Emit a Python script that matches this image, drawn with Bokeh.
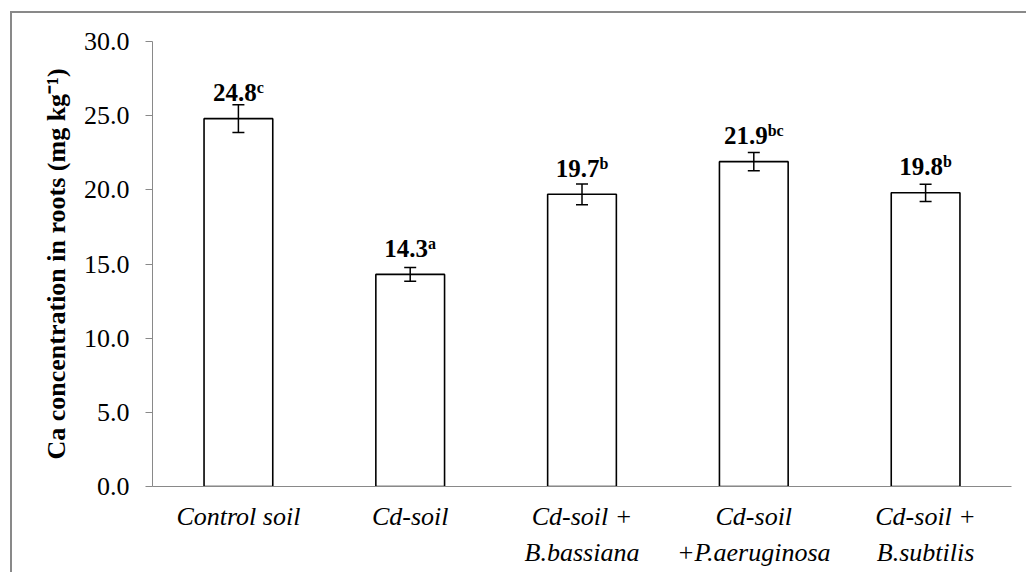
from bokeh.plotting import figure
from bokeh.models import (ColumnDataSource, FactorRange, Range1d, FixedTicker,
                          NumeralTickFormatter, Whisker, TeeHead)
from bokeh.core.properties import value
from bokeh.embed import file_html
from bokeh.resources import INLINE

# Treatments, mean Ca concentration in roots (mg/kg), standard errors, letters
treatments = ["Control soil", "Cd-soil", "Cd-soil +\nB.bassiana",
              "Cd-soil\n+P.aeruginosa", "Cd-soil +\nB.subtilis"]
ca_mean = [24.8, 14.3, 19.7, 21.9, 19.8]
ca_err = [0.93, 0.47, 0.70, 0.62, 0.58]
letters = ["c", "a", "b", "bc", "b"]

SERIF = "Liberation Serif"
NUM_SIZE = 25
SUP_SIZE = 16
num_w = 1.75 * NUM_SIZE                      # width of "dd.d" in the serif font
sup_glyph_w = {"a": 8.0, "b": 9.0, "c": 7.0}
sup_w = [sum(sup_glyph_w[ch] for ch in s) for s in letters]
# point where the number ends and the superscript starts, so the pair is centred
joint = [(num_w - w) / 2 for w in sup_w]

src = ColumnDataSource(dict(
    x=treatments,
    y=ca_mean,
    upper=[m + e for m, e in zip(ca_mean, ca_err)],
    lower=[m - e for m, e in zip(ca_mean, ca_err)],
    num=[f"{m:.1f}" for m in ca_mean],
    sup=letters,
    joint=joint,
))

AXIS_GREY = "#898989"

# the page frame: a grey rule on the left and top, offset from the window edge
OFF_X, OFF_Y, RULE = 10, 11, 2
W, H = 1028 - OFF_X - RULE, 574 - OFF_Y - RULE

p = figure(width=W, height=H, output_backend="svg", toolbar_location=None,
           x_range=FactorRange(*treatments, range_padding=0),
           y_range=Range1d(0, 30),
           min_border_left=152 - OFF_X - RULE, min_border_right=17,
           min_border_top=41 - OFF_Y - RULE, min_border_bottom=88)
p.styles = {"margin-left": f"{OFF_X}px", "margin-top": f"{OFF_Y}px",
            "border-left": f"{RULE}px solid {AXIS_GREY}",
            "border-top": f"{RULE}px solid {AXIS_GREY}"}
p.background_fill_color = "white"
p.border_fill_color = "white"
p.outline_line_color = None
p.grid.grid_line_color = None

p.vbar(x="x", top="y", width=0.40, source=src, fill_color="white",
       line_color="black", line_width=1.6)

p.add_layout(Whisker(base="x", upper="upper", lower="lower", source=src,
                     level="overlay",
                     line_color="black", line_width=1.5,
                     upper_head=TeeHead(size=12, line_color="black", line_width=1.5),
                     lower_head=TeeHead(size=12, line_color="black", line_width=1.5)))

p.text(x="x", y="y", text="num", source=src, x_offset="joint", y_offset=-26,
       text_align="right", text_baseline="alphabetic",
       text_font=value(SERIF), text_font_style="bold",
       text_font_size=f"{NUM_SIZE}px", text_color="black")
p.text(x="x", y="y", text="sup", source=src, x_offset="joint", y_offset=-31,
       text_align="left", text_baseline="alphabetic",
       text_font=value(SERIF), text_font_style="bold",
       text_font_size=f"{SUP_SIZE}px", text_color="black")

ya = p.yaxis[0]
ya.ticker = FixedTicker(ticks=[0, 5, 10, 15, 20, 25, 30])
ya.formatter = NumeralTickFormatter(format="0.0")
ya.axis_line_color = AXIS_GREY
ya.major_tick_line_color = AXIS_GREY
ya.major_tick_out = 7
ya.major_tick_in = 0
ya.minor_tick_line_color = None
ya.major_label_text_font = SERIF
ya.major_label_text_font_size = "26px"
ya.major_label_text_color = "black"
ya.major_label_standoff = 16
ya.axis_label = "Ca concentration in roots (mg kg\u207b\u00b9)"
ya.axis_label_text_font = SERIF
ya.axis_label_text_font_style = "bold"
ya.axis_label_text_font_size = "26px"
ya.axis_label_text_color = "black"
ya.axis_label_standoff = 10

xa = p.xaxis[0]
xa.axis_line_color = AXIS_GREY
xa.major_tick_line_color = None
xa.major_tick_out = 0
xa.major_tick_in = 0
xa.minor_tick_line_color = None
xa.major_label_text_font = SERIF
xa.major_label_text_font_style = "italic"
xa.major_label_text_font_size = "26px"
xa.major_label_text_color = "black"
xa.major_label_text_line_height = 1.27
xa.major_label_standoff = 15

open("out.html", "w").write(file_html(p, INLINE))
